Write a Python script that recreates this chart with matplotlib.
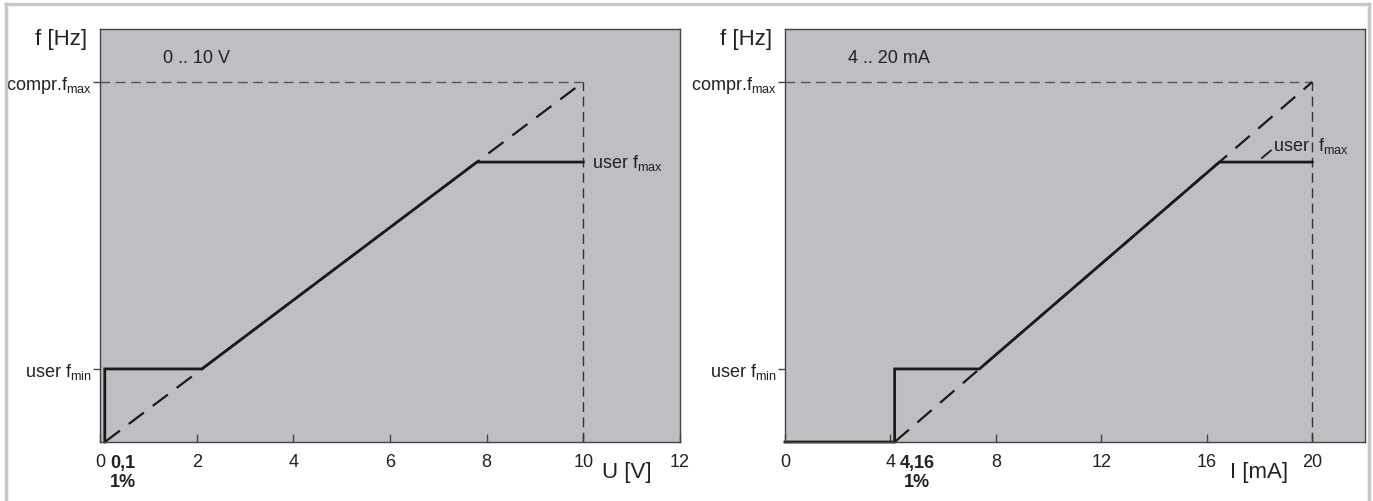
import matplotlib
matplotlib.use("Agg")
import matplotlib.pyplot as plt
from matplotlib.lines import Line2D

plt.rcParams['font.family'] = ['Liberation Sans', 'DejaVu Sans']
plt.rcParams['mathtext.fontset'] = 'custom'
plt.rcParams['mathtext.rm'] = 'Liberation Sans'

# frequency levels (arbitrary units, 0..100 = plot height)
compr_fmax = 87.2
user_fmin = 17.7
user_fmax = 67.8

# left panel: 0 .. 10 V
u_ticks = [0, 2, 4, 6, 8, 10, 12]
u_start = 0.1
u_end = 10
u_xmax = 12

# right panel: 4 .. 20 mA
i_ticks = [0, 4, 8, 12, 16, 20]
i_start = 4.16
i_end = 20
i_xmax = 22

bg = '#bebfc3'
txt = '#222222'
fig = plt.figure(figsize=(13.73, 5.02), dpi=100)

# outer frame (left, top, right)
for xs, ys in [([0.0044, 0.0044], [0, 0.99]), ([0.0044, 0.9971], [0.99, 0.99]), ([0.9971, 0.9971], [0, 0.99])]:
    fig.add_artist(Line2D(xs, ys, transform=fig.transFigure, color='#c8c8c8', lw=2.5))


def panel(ax, x0, x1, xmax, ticks, title, xlabel, xlabel_x, start_lbl, with_zero_run):
    ax.set_facecolor(bg)
    ax.set_xlim(0, xmax)
    ax.set_ylim(0, 100)
    for s in ax.spines.values():
        s.set_color('#444444')
        s.set_linewidth(1.0)

    slope = compr_fmax / (x1 - x0)
    x_fmin = x0 + user_fmin / slope
    x_fmax = x0 + user_fmax / slope

    # reference lines to compressor fmax
    ax.plot([0, x1], [compr_fmax, compr_fmax], color='#555555', lw=1.0, ls=(0, (7, 4)))
    ax.plot([x1, x1], [0, compr_fmax], color='#333333', lw=1.0, ls=(0, (7, 4)))
    # ideal dashed characteristic
    ax.plot([x0, x1], [0, compr_fmax], color='#1a1a1a', lw=1.6, ls=(0, (8.5, 5)))
    # actual characteristic
    xs = [x0, x0, x_fmin, x_fmax, x1]
    ys = [0, user_fmin, user_fmin, user_fmax, user_fmax]
    if with_zero_run:
        xs = [0] + xs
        ys = [0] + ys
    ax.plot(xs, ys, color='#1a1a1a', lw=2.0, solid_joinstyle='miter', clip_on=False)

    ax.set_xticks(ticks)
    ax.set_xticklabels([str(t) for t in ticks])
    ax.tick_params(axis='x', direction='in', length=6, width=1, color='#444444',
                   labelsize=13, pad=8, labelcolor=txt)
    ax.set_yticks([user_fmin, compr_fmax])
    ax.set_yticklabels([r'user f$_{\mathregular{min}}$', r'compr.f$_{\mathregular{max}}$'])
    ax.tick_params(axis='y', direction='out', length=5, width=1, color='#444444',
                   labelsize=13, pad=1, labelcolor=txt)

    ax.annotate(start_lbl, xy=(x0, 0), xycoords=('data', 'axes fraction'),
                xytext=(3.5, -8.5), textcoords='offset points', ha='left', va='top',
                multialignment='center', fontsize=13, fontweight='bold', color=txt,
                linespacing=1.2)
    ax.annotate('f [Hz]', xy=(0, 1), xycoords='axes fraction', xytext=(-9, 1),
                textcoords='offset points', ha='right', va='top', fontsize=16, color=txt)
    ax.text(0.109, 0.932, title, transform=ax.transAxes, ha='left', va='center',
            fontsize=13, color=txt)
    ax.annotate(xlabel, xy=(xlabel_x, 0), xycoords=('data', 'axes fraction'),
                xytext=(0, -21), textcoords='offset points', ha='center', va='center',
                fontsize=16, color=txt)
    return ax


ax1 = fig.add_axes([0.0728, 0.1175, 0.4225, 0.8225])
panel(ax1, u_start, u_end, u_xmax, u_ticks, '0 .. 10 V', 'U [V]', 10.9, '0,1\n1%', False)
ax1.text(10.17, user_fmax, r'user f$_{\mathregular{max}}$', ha='left', va='center',
         fontsize=13, color=txt)

ax2 = fig.add_axes([0.5717, 0.1175, 0.4225, 0.8225])
panel(ax2, i_start, i_end, i_xmax, i_ticks, '4 .. 20 mA', 'I [mA]', 17.97, '4,16\n1%', True)
ax2.text(18.5, 72.0, r'user  f$_{\mathregular{max}}$', ha='left', va='center',
         fontsize=13, color=txt)
ax2.plot([18.09, 18.43], [68.8, 70.6], color='#1a1a1a', lw=1.3)

fig.savefig('out.png', dpi=100)
